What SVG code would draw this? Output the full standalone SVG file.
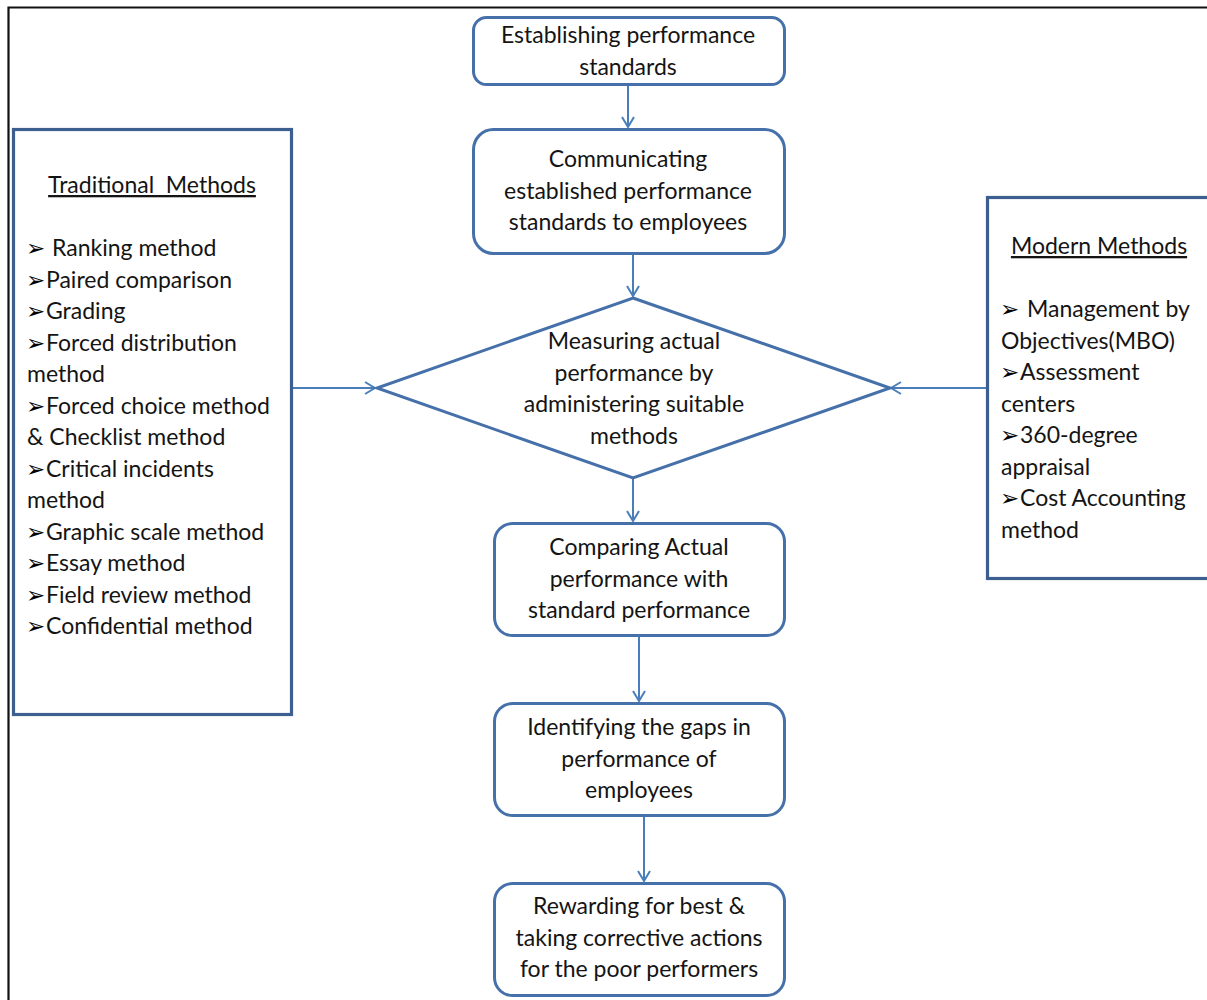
<svg xmlns="http://www.w3.org/2000/svg" width="1207" height="1000" viewBox="0 0 1207 1000">
  <style>
    text { font-family: Lato, "Open Sans", "DejaVu Sans", sans-serif; font-size: 23px; fill: #141414; white-space: pre; }
    .c { text-anchor: middle; }
    .sym { font-family: "DejaVu Sans", sans-serif; font-size: 23px; fill: #000000; }
    .flow { fill: #ffffff; stroke: #4570a9; stroke-width: 3; }
    .side { fill: #ffffff; stroke: #3d5f8f; stroke-width: 3.2; }
    .link { fill: none; stroke: #4a7ebb; stroke-width: 2; marker-end: url(#open); }
    .head { text-decoration: underline; }
  </style>
  <defs>
    <marker id="open" viewBox="0 0 12 14" refX="11" refY="7" markerWidth="12" markerHeight="14" markerUnits="userSpaceOnUse" orient="auto">
      <path d="M1,1 L11,7 L1,13" fill="none" stroke="#4a7ebb" stroke-width="2"/>
    </marker>
  </defs>

  <rect width="1207" height="1000" fill="#ffffff"/>
  <!-- page frame -->
  <path d="M8.5,1000 V7.5 H1207" fill="none" stroke="#111111" stroke-width="2.2"/>

  <g id="connectors">
    <line class="link" x1="628" y1="85" x2="628" y2="127"/>
    <line class="link" x1="633" y1="254" x2="633" y2="296"/>
    <line class="link" x1="633" y1="479" x2="633" y2="521"/>
    <line class="link" x1="639" y1="636" x2="639" y2="701"/>
    <line class="link" x1="644" y1="816" x2="644" y2="881"/>
    <line class="link" x1="292" y1="388" x2="375" y2="388"/>
    <line class="link" x1="987" y1="388" x2="891" y2="388"/>
  </g>

  <g id="establish">
    <rect class="flow" x="473.5" y="17.5" width="311" height="67" rx="13"/>
    <text class="c" x="628" y="43">Establishing performance</text>
    <text class="c" x="628" y="75">standards</text>
  </g>

  <g id="communicate">
    <rect class="flow" x="473.5" y="129.5" width="311" height="124" rx="20"/>
    <text class="c" x="628" y="167">Communicating</text>
    <text class="c" x="628" y="199">established performance</text>
    <text class="c" x="628" y="230">standards to employees</text>
  </g>

  <g id="measure">
    <polygon class="flow" points="633,298 890,388 633,478 377,388"/>
    <text class="c" x="634" y="349">Measuring actual</text>
    <text class="c" x="634" y="381">performance by</text>
    <text class="c" x="634" y="412">administering suitable</text>
    <text class="c" x="634" y="444">methods</text>
  </g>

  <g id="compare">
    <rect class="flow" x="494.5" y="523.5" width="290" height="112" rx="18"/>
    <text class="c" x="639" y="555">Comparing Actual</text>
    <text class="c" x="639" y="587">performance with</text>
    <text class="c" x="639" y="618">standard performance</text>
  </g>

  <g id="gaps">
    <rect class="flow" x="494.5" y="703.5" width="290" height="112" rx="18"/>
    <text class="c" x="639" y="735">Identifying the gaps in</text>
    <text class="c" x="639" y="767">performance of</text>
    <text class="c" x="639" y="798">employees</text>
  </g>

  <g id="reward">
    <rect class="flow" x="494.5" y="883.5" width="290" height="112" rx="18"/>
    <text class="c" x="639" y="914">Rewarding for best &amp;</text>
    <text class="c" x="639" y="946">taking corrective actions</text>
    <text class="c" x="639" y="977">for the poor performers</text>
  </g>

  <g id="traditional">
    <rect class="side" x="13.5" y="129.5" width="278" height="585"/>
    <text class="c head" x="152" y="193">Traditional  Methods</text>
    <text x="26" y="256"><tspan class="sym">➢</tspan><tspan x="52">Ranking method</tspan></text>
    <text x="26" y="288"><tspan class="sym">➢</tspan><tspan x="46">Paired comparison</tspan></text>
    <text x="26" y="319"><tspan class="sym">➢</tspan><tspan x="46">Grading</tspan></text>
    <text x="26" y="351"><tspan class="sym">➢</tspan><tspan x="46">Forced distribution</tspan></text>
    <text x="27" y="382">method</text>
    <text x="26" y="414"><tspan class="sym">➢</tspan><tspan x="46">Forced choice method</tspan></text>
    <text x="27" y="445">&amp; Checklist method</text>
    <text x="26" y="477"><tspan class="sym">➢</tspan><tspan x="46">Critical incidents</tspan></text>
    <text x="27" y="508">method</text>
    <text x="26" y="540"><tspan class="sym">➢</tspan><tspan x="46">Graphic scale method</tspan></text>
    <text x="26" y="571"><tspan class="sym">➢</tspan><tspan x="46">Essay method</tspan></text>
    <text x="26" y="603"><tspan class="sym">➢</tspan><tspan x="46">Field review method</tspan></text>
    <text x="26" y="634"><tspan class="sym">➢</tspan><tspan x="46">Confidential method</tspan></text>
  </g>

  <g id="modern">
    <rect class="side" x="987.5" y="197.5" width="240" height="381"/>
    <text class="c head" x="1099" y="254">Modern Methods</text>
    <text x="1000" y="317"><tspan class="sym">➢</tspan><tspan x="1027">Management by</tspan></text>
    <text x="1001" y="349">Objectives(MBO)</text>
    <text x="1000" y="380"><tspan class="sym">➢</tspan><tspan x="1020">Assessment</tspan></text>
    <text x="1001" y="412">centers</text>
    <text x="1000" y="443"><tspan class="sym">➢</tspan><tspan x="1020">360-degree</tspan></text>
    <text x="1001" y="475">appraisal</text>
    <text x="1000" y="506"><tspan class="sym">➢</tspan><tspan x="1020">Cost Accounting</tspan></text>
    <text x="1001" y="538">method</text>
  </g>
</svg>
